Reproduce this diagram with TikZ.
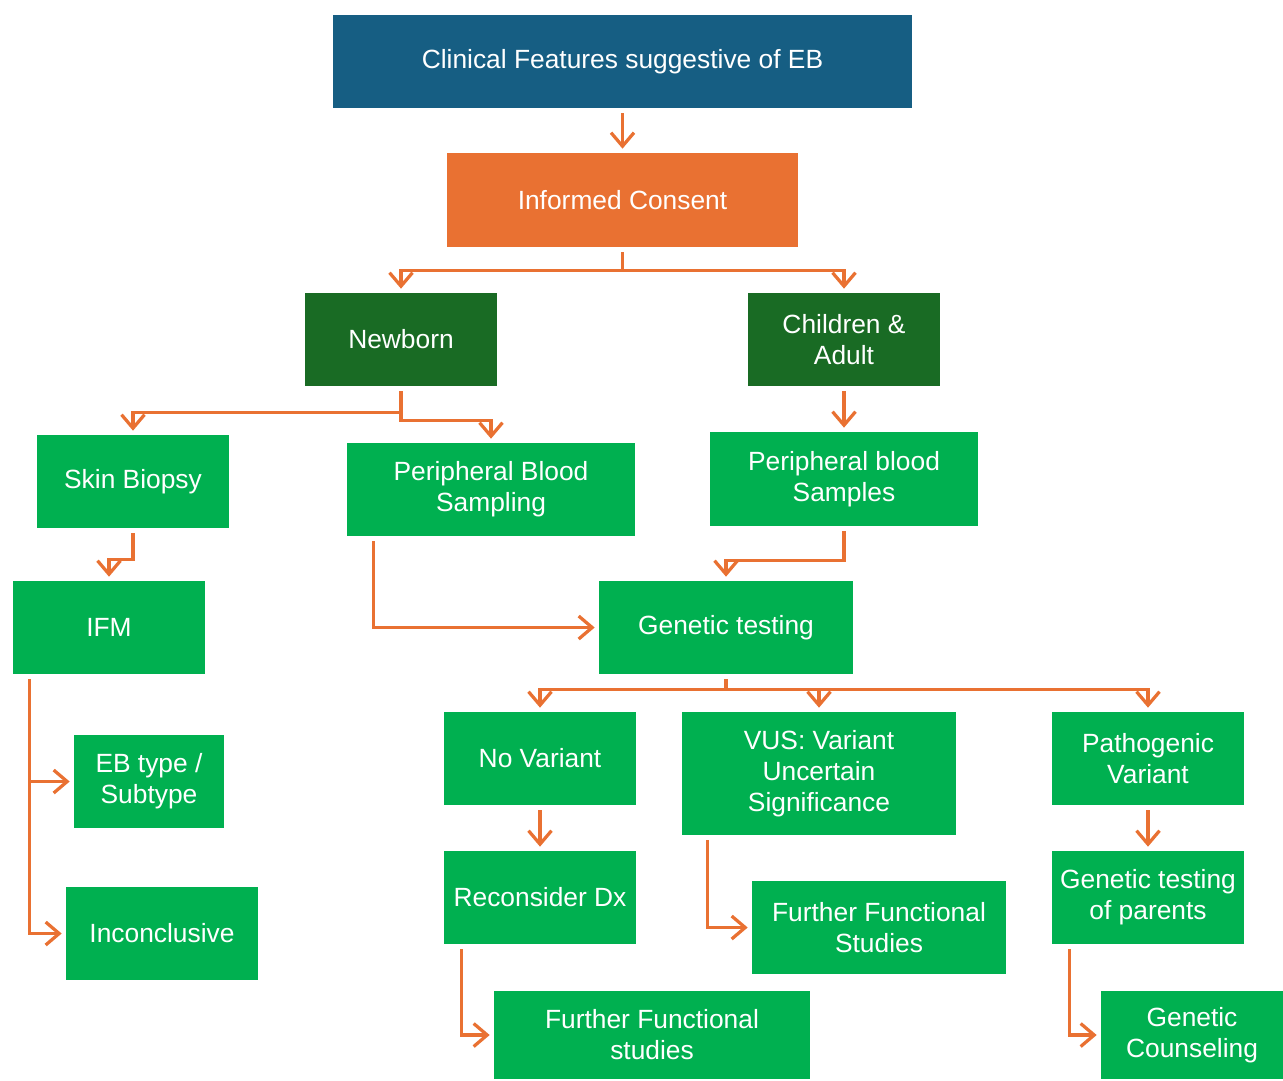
\documentclass[tikz,border=0pt]{standalone}
\usepackage{fontspec}
\setmainfont{Liberation Sans}
\usetikzlibrary{arrows.meta}

\definecolor{ebblue}{RGB}{22,94,131}
\definecolor{eborange}{RGB}{233,113,50}
\definecolor{ebdark}{RGB}{25,107,36}
\definecolor{ebgreen}{RGB}{0,176,80}

\begin{document}
\begin{tikzpicture}[x=0.02cm, y=-0.02cm,
    box/.style={draw=none, text=white, align=center, inner sep=1pt,
      font=\fontsize{15}{17.6}\selectfont},
    topbox/.style={box, fill=ebblue},
    consentbox/.style={box, fill=eborange},
    agebox/.style={box, fill=ebdark},
    stepbox/.style={box, fill=ebgreen},
    flow/.style={draw=eborange, line width=0.065cm, line join=miter,
      shorten <=0.1cm, shorten >=0.08cm,
      -{Straight Barb[length=0.27cm, width=0.46cm]}}]

    \useasboundingbox (0,0) rectangle (1283,1080);

    % Top of the chart
    \node[topbox, minimum width=11.58cm, minimum height=1.86cm] (clinical) at (622.5,61.5) {Clinical Features suggestive of EB};
    \node[consentbox, minimum width=7.02cm, minimum height=1.88cm] (consent) at (622.5,200) {Informed Consent};

    % Age groups
    \node[agebox, minimum width=3.84cm, minimum height=1.86cm] (newborn) at (401,339.5) {Newborn};
    \node[agebox, minimum width=3.84cm, minimum height=1.86cm] (children) at (844,339.5) {Children \&\\Adult};

    % Sampling
    \node[stepbox, minimum width=3.84cm, minimum height=1.86cm] (skin) at (133,481.5) {Skin Biopsy};
    \node[stepbox, minimum width=5.76cm, minimum height=1.86cm] (pbs) at (491,489.5) {Peripheral Blood\\Sampling};
    \node[stepbox, minimum width=5.36cm, minimum height=1.88cm] (pbsamp) at (844,479) {Peripheral blood\\Samples};
    \node[stepbox, minimum width=3.84cm, minimum height=1.86cm] (ifm) at (109,627.5) {IFM};
    \node[stepbox, minimum width=5.08cm, minimum height=1.86cm] (gen) at (726,627.5) {Genetic testing};

    % IFM results
    \node[stepbox, minimum width=3.00cm, minimum height=1.86cm] (ebtype) at (149,781.5) {EB type /\\Subtype};
    \node[stepbox, minimum width=3.84cm, minimum height=1.86cm] (incon) at (162,933.5) {Inconclusive};

    % Genetic results
    \node[stepbox, minimum width=3.84cm, minimum height=1.86cm] (novar) at (540,758.5) {No Variant};
    \node[stepbox, minimum width=5.48cm, minimum height=2.46cm] (vus) at (819,773.5) {VUS: Variant\\Uncertain\\Significance};
    \node[stepbox, minimum width=3.84cm, minimum height=1.86cm] (patho) at (1148,758.5) {Pathogenic\\Variant};
    \node[stepbox, minimum width=3.84cm, minimum height=1.86cm] (recon) at (540,897.5) {Reconsider Dx};
    \node[stepbox, minimum width=5.08cm, minimum height=1.86cm] (ffs) at (879,927.5) {Further Functional\\Studies};
    \node[stepbox, minimum width=3.84cm, minimum height=1.86cm] (gtp) at (1148,897.5) {Genetic testing\\of parents};
    \node[stepbox, minimum width=6.32cm, minimum height=1.76cm] (ffs2) at (652,1035) {Further Functional\\studies};
    \node[stepbox, minimum width=3.64cm, minimum height=1.76cm] (couns) at (1192,1035) {Genetic\\Counseling};

    % Connectors
    \draw[flow] (clinical.south) -- (consent.north);
    \draw[flow] (consent.south) -- ++(0,23) -| (newborn.north);
    \draw[flow] (consent.south) -- ++(0,23) -| (children.north);
    \draw[flow] (newborn.south) -- ++(0,26) -| (skin.north);
    \draw[flow] (newborn.south) -- ++(0,34) -| (pbs.north);
    \draw[flow] (children.south) -- (pbsamp.north);
    \draw[flow] (skin.south) -- ++(0,31) -| (ifm.north);
    \draw[flow] ([xshift=0.54cm]pbs.south west) |- (gen.west);
    \draw[flow] (pbsamp.south) -- ++(0,34) -| (gen.north);
    \draw[flow] ([xshift=0.34cm]ifm.south west) |- (ebtype.west);
    \draw[flow] ([xshift=0.34cm]ifm.south west) |- (incon.west);
    \draw[flow] (gen.south) -- ++(0,15) -| (novar.north);
    \draw[flow] (gen.south) -- ++(0,15) -| (vus.north);
    \draw[flow] (gen.south) -- ++(0,15) -| (patho.north);
    \draw[flow] (novar.south) -- (recon.north);
    \draw[flow] ([xshift=0.52cm]vus.south west) |- (ffs.west);
    \draw[flow] (patho.south) -- (gtp.north);
    \draw[flow] ([xshift=0.36cm]recon.south west) |- (ffs2.west);
    \draw[flow] ([xshift=0.36cm]gtp.south west) |- (couns.west);
\end{tikzpicture}
\end{document}
